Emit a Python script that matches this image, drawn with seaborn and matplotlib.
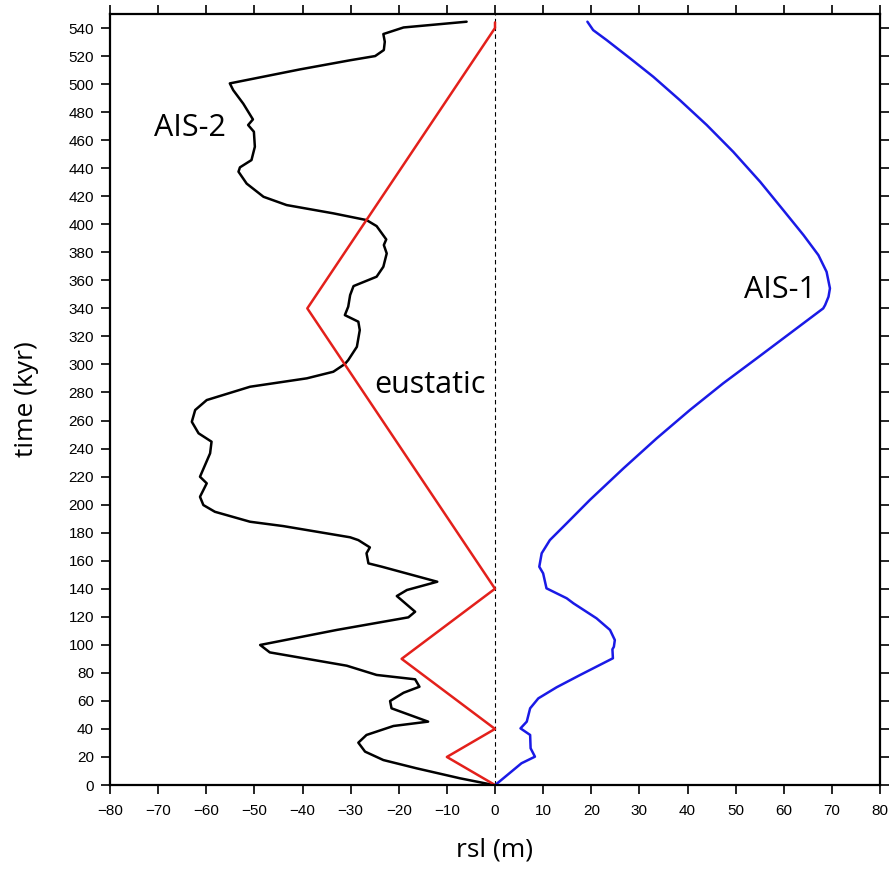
import matplotlib
matplotlib.use("Agg")
import matplotlib.pyplot as plt
import seaborn as sns
import pandas as pd

# AIS-2 (black)
ais2_time = [0, 4.8, 11.9, 17.8, 23.8, 30.2, 35.7, 42.1, 45.2, 54.7, 59.9, 65.8, 70.1, 75.4,
             78.5, 85.1, 94.6, 99.9, 110.6, 119.6, 123.6, 134.8, 139.1, 145, 155.7, 158.1,
             165.3, 169.5, 174.7, 176.7, 184.7, 187.8, 194.9, 199.7, 205.6, 215.2, 219.9,
             236.6, 244.9, 250.9, 259.1, 267.5, 274.6, 284.1, 290.1, 294.8, 300.3, 303.1,
             312.6, 324.5, 330.5, 335.2, 341.2, 349.5, 355.9, 362.6, 369.7, 379.2, 385.2,
             389.2, 398.7, 403, 407.8, 413.7, 419.6, 429, 437.5, 440.6, 445.8, 455.3, 466,
             470.8, 474.8, 486, 495.7, 500.5, 510.5, 517, 520, 524.3, 530.2, 535.7, 540.4, 544.5]
ais2_rsl = [-0.3, -7.3, -16.3, -23.2, -27.0, -28.4, -26.7, -21.1, -13.9, -21.5, -21.8, -19.0,
            -15.7, -16.6, -24.6, -30.8, -46.8, -48.8, -32.9, -18.0, -16.6, -20.4, -18.3, -12.0,
            -23.5, -26.3, -26.7, -26.0, -28.4, -30.1, -44.0, -50.9, -58.2, -60.6, -61.3, -59.9,
            -61.3, -59.2, -58.9, -61.6, -63.0, -62.3, -59.9, -50.9, -39.1, -33.6, -31.2, -30.5,
            -28.7, -28.1, -28.4, -31.2, -30.5, -30.1, -29.4, -24.6, -23.2, -22.5, -23.1, -22.6,
            -24.6, -26.7, -33.6, -43.3, -48.1, -51.6, -53.3, -53.0, -50.6, -49.9, -50.1, -51.3,
            -50.3, -52.3, -54.4, -55.1, -40.5, -30.1, -24.9, -23.1, -22.9, -23.2, -19.0, -5.9]

# eustatic (red)
eus_time = [0, 20, 40, 90, 140, 340, 540, 544]
eus_rsl = [0, -10, 0, -19.4, 0, -39, 0, 0]

# AIS-1 (blue)
ais1_time = [0.7, 15.5, 20.2, 26.2, 35.7, 40.4, 45.2, 54.7, 61.8, 69.7, 78.5, 90.4, 96.8,
             98.6, 103.4, 110.6, 118.9, 129.6, 133.2, 140.3, 151, 155.7, 165.3, 174.7, 186.7,
             203.3, 225.9, 247.3, 267.5, 286.5, 304.4, 322.2, 340, 342.4, 348.3, 354.3, 366.1,
             378, 392.3, 410.1, 430.3, 451.7, 470.8, 488.6, 505.2, 518.3, 531.4, 538.5, 544.5]
ais1_rsl = [0.3, 5.5, 8.3, 7.4, 7.3, 5.3, 6.6, 7.3, 9.0, 12.8, 17.7, 24.5, 24.4, 24.7, 24.9,
            23.9, 21.1, 16.3, 14.9, 10.7, 10.0, 9.2, 9.7, 11.4, 14.9, 19.7, 26.7, 33.6, 40.5,
            47.4, 54.4, 61.3, 68.2, 68.6, 69.3, 69.6, 68.9, 67.2, 64.1, 59.9, 55.1, 49.5, 44.0,
            38.4, 32.9, 28.1, 23.2, 20.4, 19.2]

x_ticks = list(range(-80, 81, 10))
y_ticks = list(range(0, 541, 20))

sns.set_theme(style="white")
plt.rcParams['font.family'] = ['Liberation Sans', 'DejaVu Sans']
plt.rcParams['text.color'] = 'black'
plt.rcParams['axes.labelcolor'] = 'black'

fig = plt.figure(figsize=(8.93, 8.71), dpi=100)
ax = fig.add_axes([110/893, 1-785/871, 770/893, 771/871])

df2 = pd.DataFrame({"rsl": ais2_rsl, "time": ais2_time})
dfe = pd.DataFrame({"rsl": eus_rsl, "time": eus_time})
df1 = pd.DataFrame({"rsl": ais1_rsl, "time": ais1_time})

ax.axvline(0, color="black", lw=0.8, ls=(0, (4, 3)), zorder=1)
sns.lineplot(data=df2, x="rsl", y="time", sort=False, estimator=None, color="black", lw=1.8, ax=ax)
sns.lineplot(data=dfe, x="rsl", y="time", sort=False, estimator=None, color="#e3201b", lw=1.8, ax=ax)
sns.lineplot(data=df1, x="rsl", y="time", sort=False, estimator=None, color="#1a1ae6", lw=1.8, ax=ax)

ax.set_xlim(-80, 80)
ax.set_ylim(0, 550)
ax.set_xticks(x_ticks)
ax.set_yticks(y_ticks)
ax.set_xticklabels([("\u2212" + str(-v)) if v < 0 else str(v) for v in x_ticks])
ax.tick_params(axis="both", which="both", direction="out", length=6.5, width=1.2, pad=5,
               labelsize=11, colors="black", top=True, right=True, bottom=True, left=True,
               labeltop=False, labelright=False)
ax.tick_params(axis="x", pad=7)
for s in ax.spines.values():
    s.set_linewidth(1.6)
    s.set_color("black")

ax.set_xlabel("rsl (m)", fontsize=19, family=["Open Sans", "DejaVu Sans"], labelpad=14)
ax.set_ylabel("time (kyr)", fontsize=19, family=["Open Sans", "DejaVu Sans"], labelpad=21)

ax.text(-63.4, 469, "AIS-2", fontsize=22, ha="center", va="center", family=["Open Sans", "DejaVu Sans"])
ax.text(59.2, 353, "AIS-1", fontsize=22, ha="center", va="center", family=["Open Sans", "DejaVu Sans"])
ax.text(-13.5, 285, "eustatic", fontsize=22, ha="center", va="center", family=["Open Sans", "DejaVu Sans"])

fig.savefig("out.png", dpi=100)
